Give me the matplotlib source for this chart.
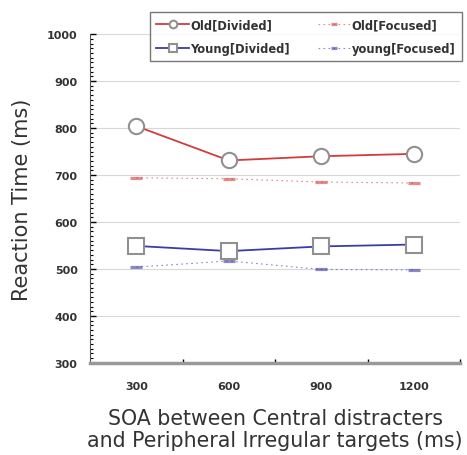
import matplotlib
matplotlib.use('Agg')
import matplotlib.pyplot as plt
from matplotlib.ticker import MultipleLocator, FixedLocator

plt.rcParams['font.family'] = ['DejaVu Sans']

soa_labels = ['300', '600', '900', '1200']
old_divided = [804, 731, 740, 745]
young_divided = [549, 538, 548, 552]
old_focused = [694, 692, 685, 683]
young_focused = [504, 517, 499, 498]

RED = '#d23c3c'
BLUE = '#3c3ca8'

fig = plt.figure(figsize=(4.67, 4.56), dpi=100)
ax = fig.add_axes([0.193, 0.202, 0.792, 0.721])

x = [i + 0.5 for i in range(len(soa_labels))]

ax.plot(x, old_divided, color=RED, lw=1.3, marker='o', ms=11,
        mfc='white', mec='#909090', mew=1.5, label='Old[Divided]', zorder=4)
ax.plot(x, old_focused, color=RED, lw=0.8, ls=(0, (1.5, 3)), alpha=0.6,
        marker='_', ms=9, mew=2.3, label='Old[Focused]', zorder=3)
ax.plot(x, young_divided, color=BLUE, lw=1.3, marker='s', ms=12,
        mfc='white', mec='#909090', mew=1.5, label='Young[Divided]', zorder=4)
ax.plot(x, young_focused, color=BLUE, lw=0.8, ls=(0, (1.5, 3)), alpha=0.6,
        marker='_', ms=9, mew=2.3, label='young[Focused]', zorder=3)

ax.set_xlim(0, 4)
ax.set_ylim(300, 1000)
ax.yaxis.set_major_locator(MultipleLocator(100))
ax.yaxis.set_minor_locator(MultipleLocator(10))
ax.xaxis.set_major_locator(FixedLocator(x))
ax.xaxis.set_minor_locator(FixedLocator([1, 2, 3, 4]))
ax.set_xticklabels(soa_labels)
ax.tick_params(axis='x', which='major', length=0, pad=13, labelsize=8)
ax.tick_params(axis='x', which='minor', length=3, direction='in', width=1)
ax.tick_params(axis='y', which='major', length=4, direction='in', width=1, labelsize=8, pad=9)
ax.tick_params(axis='y', which='minor', length=2.5, direction='in', width=0.8)
for lbl in ax.get_xticklabels() + ax.get_yticklabels():
    lbl.set_fontweight('bold')
    lbl.set_color('#333333')

ax.grid(True, axis='y', which='major', color='#d8d8d8', lw=0.8)
ax.spines['top'].set_visible(False)
ax.spines['right'].set_visible(False)
ax.spines['left'].set_color('#555555')
ax.spines['bottom'].set_color('#999999')
ax.spines['bottom'].set_linewidth(2.5)

ax.set_ylabel('Reaction Time (ms)', fontsize=15, color='#333333', labelpad=11)
ax.set_xlabel('SOA between Central distracters\nand Peripheral Irregular targets (ms)',
              fontsize=14.8, color='#333333', labelpad=12, linespacing=1.12)

handles, labels = ax.get_legend_handles_labels()
order = [0, 2, 1, 3]
leg = ax.legend([handles[i] for i in order], [labels[i] for i in order],
                ncol=2, loc='upper right', bbox_to_anchor=(1.005, 1.067),
                borderaxespad=0,
                prop={'weight': 'bold', 'size': 8.3},
                frameon=True, fancybox=False, edgecolor='#555555',
                handlelength=2.8, markerscale=0.5, columnspacing=2.4,
                handletextpad=0.15, borderpad=0.55, labelspacing=0.9)
leg.get_frame().set_linewidth(1)
for t in leg.get_texts():
    t.set_color('#333333')

fig.savefig('out.png', dpi=100)
